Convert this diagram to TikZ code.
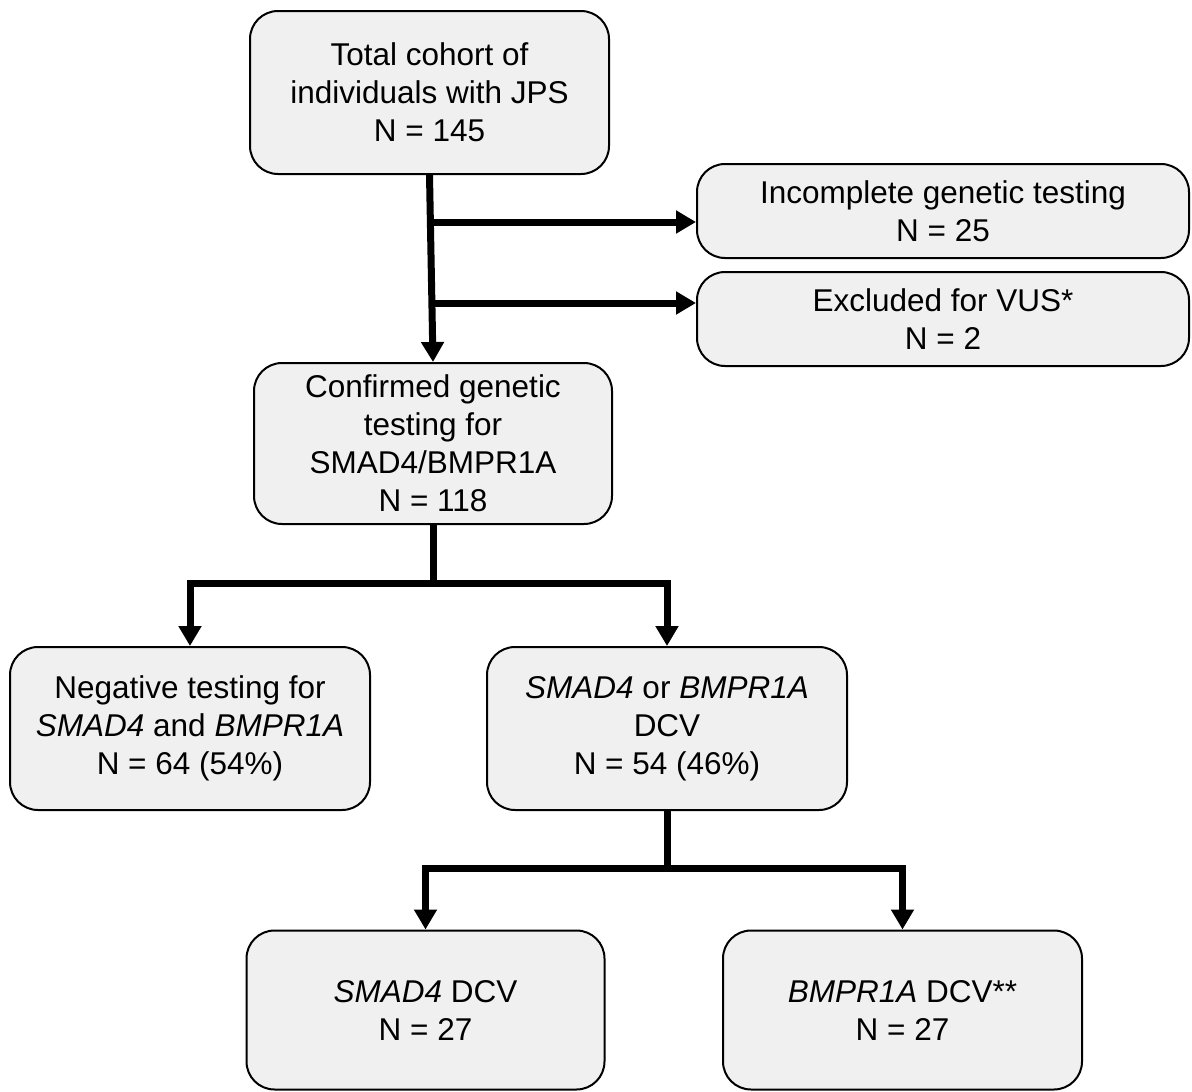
\documentclass[tikz,border=0pt]{standalone}
\usepackage{fontspec}
\setmainfont{Liberation Sans}
\usetikzlibrary{arrows.meta,calc}
\definecolor{boxfill}{HTML}{F0F0F0}
\begin{document}
\begin{tikzpicture}[x=1pt,y=-1pt,
  box/.style={draw=black, line width=2pt, fill=boxfill, rounded corners=28pt,
    align=center, inner sep=0pt, font=\fontsize{31.5}{38}\selectfont},
  conn/.style={line width=7pt, -{Triangle[length=20pt,width=22pt]}},
  plain/.style={line width=7pt}]
\useasboundingbox (0,0) rectangle (1192,1092);

\node[box, minimum width=359pt, minimum height=163pt] (top) at (429.5,92.5)
  {Total cohort of\\individuals with JPS\\N = 145};
\node[box, minimum width=492pt, minimum height=94pt] (inc) at (943,211)
  {Incomplete genetic testing\\N = 25};
\node[box, minimum width=492pt, minimum height=94pt] (exc) at (943,319)
  {Excluded for VUS*\\N = 2};
\node[box, minimum width=358pt, minimum height=161pt] (conf) at (433,443.5)
  {Confirmed genetic\\testing for\\SMAD4/BMPR1A\\N = 118};
\node[box, minimum width=360pt, minimum height=163pt] (neg) at (190,728.5)
  {Negative testing for\\\textit{SMAD4} and \textit{BMPR1A}\\N = 64 (54\%)};
\node[box, minimum width=360pt, minimum height=163pt] (dcv) at (667,728.5)
  {\textit{SMAD4} or \textit{BMPR1A}\\DCV\\N = 54 (46\%)};
\node[box, minimum width=358pt, minimum height=159pt] (smad) at (425.5,1010)
  {\textit{SMAD4} DCV\\N = 27};
\node[box, minimum width=359pt, minimum height=159pt] (bmpr) at (902.5,1010)
  {\textit{BMPR1A} DCV**\\N = 27};

% top branch
\draw[conn] (top.south) -- (conf.north);
\coordinate (b1) at (431,222);
\coordinate (b2) at (432,303);
\draw[conn] (b1) -- (b1 -| inc.west);
\draw[conn] (b2) -- (b2 -| exc.west);

% confirmed split
\coordinate (j1) at (433,583);
\draw[plain] (conf.south) -- (j1);
\draw[conn] (j1) -| (neg.north);
\draw[conn] (j1) -| (dcv.north);

% DCV split
\coordinate (j2) at (667,868);
\draw[plain] (dcv.south) -- (j2);
\draw[conn] (j2) -| (smad.north);
\draw[conn] (j2) -| (bmpr.north);
\end{tikzpicture}
\end{document}
